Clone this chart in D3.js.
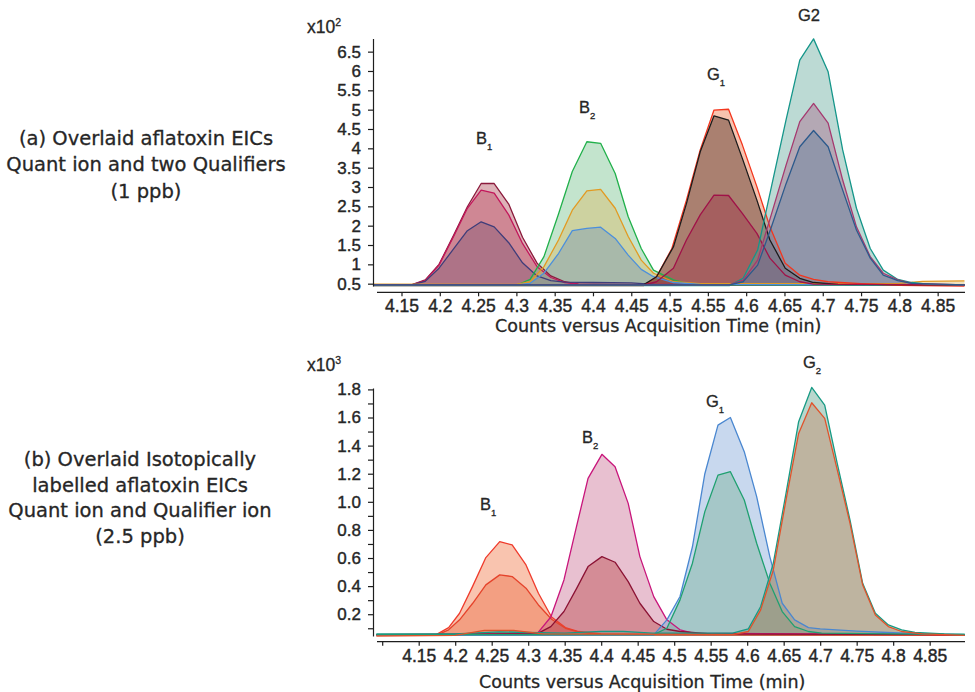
<!DOCTYPE html>
<html>
<head>
<meta charset="utf-8">
<script src="https://d3js.org/d3.v7.min.js"></script>
<style>
  body { margin: 0; background: #fff; }
  svg { display: block; }
  .axis path, .axis line { stroke: #1e1e1e; stroke-width: 1.2; }
  .axis text { font-family: "Liberation Sans", Arial, sans-serif; fill: #262626; stroke: #262626; stroke-width: 0.4px; }
  .note { font-family: "DejaVu Sans", sans-serif; fill: #262626; stroke: #262626; stroke-width: 0.3px; }
  .peak, .mult { font-family: "Liberation Sans", Arial, sans-serif; fill: #262626; stroke: #262626; stroke-width: 0.3px; }
</style>
</head>
<body>
<svg id="fig" width="975" height="692"></svg>
<script>
// ------------------------------------------
//  Data: (a) 1 ppb, [time (min), counts x10^2]
// ------------------------------------------
const aB1q1 = [[4.113,0.47],[4.163,0.47],[4.181,0.60],[4.199,1.00],[4.218,1.75],[4.236,2.49],[4.254,3.09],[4.271,3.09],[4.290,2.56],[4.308,1.70],[4.327,1.03],[4.345,0.70],[4.363,0.55],[4.381,0.49],[4.45,0.47],[4.885,0.47]]
const aB1q2 = [[4.113,0.47],[4.163,0.47],[4.181,0.58],[4.199,0.98],[4.218,1.72],[4.236,2.45],[4.254,2.92],[4.271,2.84],[4.290,2.28],[4.308,1.54],[4.327,0.94],[4.345,0.66],[4.363,0.53],[4.381,0.49],[4.885,0.47]]
const aB1q3 = [[4.113,0.47],[4.163,0.47],[4.181,0.56],[4.199,0.90],[4.218,1.40],[4.236,1.87],[4.254,2.10],[4.271,1.97],[4.290,1.56],[4.308,1.04],[4.327,0.70],[4.345,0.58],[4.363,0.54],[4.40,0.53],[4.45,0.52],[4.48,0.48],[4.885,0.47]]
const aB2q1 = [[4.113,0.46],[4.300,0.46],[4.318,0.61],[4.336,1.20],[4.355,2.30],[4.373,3.40],[4.392,4.17],[4.410,4.13],[4.429,3.35],[4.446,2.23],[4.463,1.41],[4.479,0.85],[4.505,0.60],[4.522,0.51],[4.54,0.47],[4.885,0.46]]
const aB2q2 = [[4.113,0.49],[4.300,0.48],[4.318,0.55],[4.336,0.94],[4.355,1.63],[4.373,2.40],[4.392,2.90],[4.410,2.94],[4.429,2.45],[4.446,1.72],[4.463,1.11],[4.479,0.77],[4.505,0.55],[4.54,0.50],[4.80,0.51],[4.83,0.56],[4.885,0.57]]
const aB2q3 = [[4.113,0.47],[4.300,0.47],[4.318,0.51],[4.336,0.77],[4.355,1.28],[4.373,1.87],[4.392,1.93],[4.410,1.96],[4.429,1.67],[4.446,1.24],[4.463,0.87],[4.479,0.68],[4.505,0.53],[4.54,0.48],[4.885,0.47]]
const aG1q1 = [[4.113,0.45],[4.466,0.45],[4.483,0.68],[4.503,1.41],[4.522,2.66],[4.540,3.96],[4.558,4.99],[4.577,5.01],[4.595,4.09],[4.614,3.01],[4.631,1.97],[4.651,1.03],[4.670,0.72],[4.688,0.61],[4.707,0.55],[4.75,0.50],[4.80,0.46],[4.885,0.44]]
const aG1q2 = [[4.113,0.47],[4.466,0.47],[4.483,0.68],[4.505,1.45],[4.522,2.57],[4.540,3.91],[4.558,4.84],[4.577,4.73],[4.595,3.74],[4.614,2.66],[4.631,1.63],[4.651,0.90],[4.670,0.64],[4.688,0.53],[4.72,0.48],[4.885,0.47]]
const aG1q3 = [[4.113,0.47],[4.466,0.47],[4.483,0.55],[4.505,0.90],[4.522,1.63],[4.540,2.28],[4.558,2.79],[4.577,2.78],[4.595,2.32],[4.614,1.80],[4.631,1.16],[4.651,0.72],[4.670,0.55],[4.688,0.49],[4.885,0.47]]
const aG2q1 = [[4.113,0.45],[4.578,0.45],[4.596,0.64],[4.615,1.37],[4.633,3.01],[4.652,4.73],[4.670,6.28],[4.688,6.83],[4.707,5.98],[4.726,3.96],[4.744,2.45],[4.762,1.41],[4.779,0.85],[4.798,0.61],[4.816,0.53],[4.84,0.48],[4.885,0.47]]
const aG2q2 = [[4.113,0.47],[4.578,0.47],[4.596,0.59],[4.615,1.11],[4.633,2.30],[4.652,3.56],[4.670,4.69],[4.688,5.16],[4.707,4.65],[4.726,3.18],[4.744,1.97],[4.762,1.20],[4.779,0.77],[4.798,0.60],[4.816,0.51],[4.885,0.47]]
const aG2q3 = [[4.113,0.47],[4.578,0.47],[4.596,0.55],[4.615,0.98],[4.633,1.97],[4.652,3.08],[4.670,4.04],[4.688,4.46],[4.707,4.04],[4.726,2.92],[4.744,1.89],[4.762,1.16],[4.779,0.72],[4.798,0.58],[4.816,0.51],[4.885,0.47]]

const aLineColors = ['#8b1a3c', '#c2185b', '#3f3d7a', '#21b04b', '#e29a22', '#4b8fdc', '#f3361e', '#1b1b1b', '#a01248', '#15968a', '#a5396f', '#2c5a8c']
const aFillColors = ['#aa3f4e', '#bc465e', '#7d5573', '#69bc82', '#dcb75c', '#7093b9', '#eb6937', '#371c12', '#9d2d46', '#58a394', '#a85d84', '#5c7b9b']

const aXTicks = [4.15, 4.2, 4.25, 4.3, 4.35, 4.4, 4.45, 4.5, 4.55, 4.6, 4.65, 4.7, 4.75, 4.8, 4.85]
const aXLabels = ['4.15', '4.2', '4.25', '4.3', '4.35', '4.4', '4.45', '4.5', '4.55', '4.6', '4.65', '4.7', '4.75', '4.8', '4.85']
const aYTicks = [0.5, 1, 1.5, 2, 2.5, 3, 3.5, 4, 4.5, 5, 5.5, 6, 6.5]
const aYLabels = ['0.5', '1', '1.5', '2', '2.5', '3', '3.5', '4', '4.5', '5', '5.5', '6', '6.5']

const aPeakNames = ['B', 'B', 'G', 'G2']
const aPeakSubs = ['1', '2', '1', '']
const aPeakAt = [[4.2473, 4.11], [4.3817, 4.92], [4.5488, 5.77], [4.6676, 7.3]]

// ------------------------------------------
//  Data: (b) 2.5 ppb, [time (min), counts x10^3]
// ------------------------------------------
const bB1q1 = [[4.092,0.055],[4.174,0.055],[4.191,0.105],[4.206,0.207],[4.224,0.40],[4.242,0.603],[4.261,0.717],[4.278,0.693],[4.297,0.551],[4.314,0.349],[4.332,0.18],[4.351,0.105],[4.369,0.077],[4.40,0.06],[4.898,0.055]]
const bB1q2 = [[4.092,0.05],[4.174,0.05],[4.191,0.089],[4.206,0.16],[4.224,0.278],[4.242,0.409],[4.261,0.48],[4.278,0.468],[4.297,0.385],[4.314,0.266],[4.332,0.164],[4.351,0.10],[4.369,0.072],[4.40,0.055],[4.898,0.05]]
const bB2q1 = [[4.092,0.055],[4.312,0.06],[4.331,0.18],[4.349,0.444],[4.366,0.82],[4.382,1.167],[4.401,1.338],[4.419,1.25],[4.437,0.989],[4.453,0.61],[4.472,0.325],[4.490,0.16],[4.508,0.089],[4.526,0.065],[4.898,0.055]]
const bB2q2 = [[4.092,0.055],[4.312,0.06],[4.331,0.112],[4.349,0.219],[4.366,0.38],[4.382,0.539],[4.401,0.61],[4.419,0.57],[4.437,0.432],[4.453,0.278],[4.472,0.148],[4.490,0.093],[4.508,0.077],[4.55,0.06],[4.898,0.055]]
const bG1q1 = [[4.092,0.05],[4.472,0.053],[4.490,0.16],[4.508,0.326],[4.525,0.68],[4.542,1.20],[4.560,1.546],[4.577,1.60],[4.596,1.357],[4.613,1.037],[4.631,0.61],[4.648,0.278],[4.665,0.16],[4.684,0.105],[4.70,0.095],[4.75,0.08],[4.80,0.068],[4.85,0.058],[4.898,0.055]]
const bG1q2 = [[4.092,0.055],[4.472,0.055],[4.490,0.10],[4.508,0.302],[4.525,0.563],[4.542,0.93],[4.560,1.19],[4.577,1.214],[4.596,1.013],[4.613,0.705],[4.631,0.42],[4.648,0.219],[4.665,0.112],[4.684,0.077],[4.702,0.065],[4.898,0.055]]
const bG2q1 = [[4.092,0.06],[4.20,0.06],[4.26,0.075],[4.30,0.07],[4.35,0.065],[4.40,0.078],[4.43,0.078],[4.47,0.065],[4.58,0.065],[4.6016,0.096],[4.6185,0.255],[4.6358,0.563],[4.6532,1.06],[4.6705,1.57],[4.6884,1.814],[4.7062,1.688],[4.7235,1.27],[4.7409,0.87],[4.7582,0.42],[4.7756,0.207],[4.7934,0.124],[4.8116,0.089],[4.8299,0.07],[4.87,0.06],[4.898,0.058]]
const bG2q2 = [[4.092,0.045],[4.20,0.05],[4.24,0.085],[4.28,0.085],[4.32,0.06],[4.58,0.055],[4.6016,0.077],[4.6185,0.231],[4.6358,0.515],[4.6532,1.013],[4.6705,1.487],[4.6884,1.705],[4.7062,1.594],[4.7235,1.226],[4.7409,0.847],[4.7582,0.409],[4.7756,0.195],[4.7934,0.112],[4.8116,0.077],[4.84,0.06],[4.898,0.05]]

const bLineColors = ['#ef3b2c', '#e5432b', '#c8157b', '#8b1234', '#4a87d0', '#1fa070', '#179a84', '#e0532b']
const bFillColors = ['#f06c37', '#ec6a3e', '#c5628a', '#b63e3f', '#769ed5', '#70b08f', '#509b82', '#c57f5c']

const bXTicks = [4.1, 4.15, 4.2, 4.25, 4.3, 4.35, 4.4, 4.45, 4.5, 4.55, 4.6, 4.65, 4.7, 4.75, 4.8, 4.85]
const bXLabels = ['', '4.15', '4.2', '4.25', '4.3', '4.35', '4.4', '4.45', '4.5', '4.55', '4.6', '4.65', '4.7', '4.75', '4.8', '4.85']
const bYTicks = [0.2, 0.4, 0.6, 0.8, 1.0, 1.2, 1.4, 1.6, 1.8]
const bYLabels = ['0.2', '0.4', '0.6', '0.8', '1.0', '1.2', '1.4', '1.6', '1.8']
const bYMinor = [0.1, 0.3, 0.5, 0.7, 0.9, 1.1, 1.3, 1.5, 1.7]

const bPeakNames = ['B', 'B', 'G', 'G']
const bPeakSubs = ['1', '2', '1', '2']
const bPeakAt = [[4.234, 0.942], [4.3737, 1.416], [4.5436, 1.677], [4.6765, 1.95]]

// ------------------------------------------
//  Drawing
// ------------------------------------------
const svg = d3.select('#fig')

function drawChart(cfg) {
  const x = d3.scaleLinear().domain(cfg.xDomain).range([cfg.left, cfg.right])
  const y = d3.scaleLinear().domain(cfg.yDomain).range([cfg.bottom, cfg.top])
  const g = svg.append('g')

  g.append('clipPath').attr('id', 'clip-' + cfg.id)
    .append('rect')
    .attr('x', cfg.left).attr('y', cfg.top - 2)
    .attr('width', cfg.right - cfg.left).attr('height', cfg.bottom - cfg.top + 4)

  const area = d3.area().x(d => x(d[0])).y0(cfg.bottom).y1(d => y(d[1]))
  const line = d3.line().x(d => x(d[0])).y(d => y(d[1]))

  const plot = g.append('g').attr('clip-path', `url(#clip-${cfg.id})`)

  plot.selectAll('.fill')
    .data(cfg.series)
    .enter().append('path')
    .attr('class', 'fill')
    .attr('d', area)
    .attr('fill', (d, i) => cfg.fills[i])
    .attr('fill-opacity', 0.4)

  plot.selectAll('.trace')
    .data(cfg.series)
    .enter().append('path')
    .attr('class', 'trace')
    .attr('d', line)
    .attr('fill', 'none')
    .attr('stroke', (d, i) => cfg.lines[i])
    .attr('stroke-width', 1.3)
    .attr('stroke-linejoin', 'round')

  // y axis
  g.append('g')
    .attr('class', 'axis')
    .attr('transform', `translate(${cfg.left},0)`)
    .call(d3.axisLeft(y).tickValues(cfg.yTicks).tickFormat((d, i) => cfg.yLabels[i])
      .tickSize(5).tickPadding(7).tickSizeOuter(0))
    .selectAll('text').attr('font-size', 17)

  if (cfg.yMinor) {
    g.append('g')
      .attr('class', 'axis')
      .attr('transform', `translate(${cfg.left},0)`)
      .call(d3.axisLeft(y).tickValues(cfg.yMinor).tickFormat('').tickSize(5).tickSizeOuter(0))
      .call(a => a.select('.domain').remove())
  }

  // x axis, sits a few pixels below the plot
  g.append('g')
    .attr('class', 'axis')
    .attr('transform', `translate(0,${cfg.axisY})`)
    .call(d3.axisBottom(x).tickValues(cfg.xTicks).tickFormat((d, i) => cfg.xLabels[i])
      .tickSize(4).tickPadding(3.5).tickSizeOuter(0))
    .call(a => a.select('.domain').attr('d', `M${cfg.left + 4},0H${cfg.right}`))
    .selectAll('text').attr('font-size', 17.5)

  g.append('text')
    .attr('class', 'note')
    .attr('x', cfg.titleX).attr('y', cfg.titleY)
    .attr('font-size', 17.5)
    .text('Counts versus Acquisition Time (min)')

  // multiplier
  const mult = g.append('text')
    .attr('class', 'mult')
    .attr('x', 307).attr('y', cfg.multY)
    .attr('font-size', 17.5)
    .text('x10')
  mult.append('tspan').attr('dy', -7).attr('font-size', 10.5).text(cfg.power)

  // peak names
  cfg.peaks.forEach((name, i) => {
    const t = g.append('text')
      .attr('class', 'peak')
      .attr('x', x(cfg.peakAt[i][0]))
      .attr('y', y(cfg.peakAt[i][1]))
      .attr('font-size', 16.5)
      .text(name)
    if (cfg.subs[i]) t.append('tspan').attr('dy', 6).attr('font-size', 9.5).text(cfg.subs[i])
  })

  // description on the left
  g.append('text')
    .attr('class', 'note')
    .attr('font-size', 19.5)
    .attr('text-anchor', 'middle')
    .selectAll('tspan')
    .data(cfg.caption)
    .enter().append('tspan')
    .attr('x', cfg.captionX)
    .attr('y', (d, i) => cfg.captionY + i * cfg.captionStep)
    .text(d => d)
}

drawChart({
  id: 'a',
  series: [aB1q1, aB1q2, aB1q3, aB2q1, aB2q2, aB2q3, aG1q1, aG1q2, aG1q3, aG2q1, aG2q2, aG2q3],
  lines: aLineColors,
  fills: aFillColors,
  xDomain: [4.1128, 4.8857],
  yDomain: [0.44, 6.84],
  left: 373, right: 965, top: 38.5, bottom: 286, axisY: 292.3,
  xTicks: aXTicks, xLabels: aXLabels,
  yTicks: aYTicks, yLabels: aYLabels,
  titleX: 495, titleY: 331.5,
  multY: 32.7,
  power: '2',
  peaks: aPeakNames, subs: aPeakSubs, peakAt: aPeakAt,
  caption: ['(a) Overlaid aflatoxin EICs', 'Quant ion and two Qualifiers', '(1 ppb)'],
  captionX: 146, captionY: 144.5, captionStep: 26.5
})

drawChart({
  id: 'b',
  series: [bB1q1, bB1q2, bB2q1, bB2q2, bG1q1, bG1q2, bG2q1, bG2q2],
  lines: bLineColors,
  fills: bFillColors,
  xDomain: [4.0874, 4.8984],
  yDomain: [0.045, 1.81],
  left: 373, right: 965, top: 388, bottom: 636, axisY: 641.7,
  xTicks: bXTicks, xLabels: bXLabels,
  yTicks: bYTicks, yLabels: bYLabels, yMinor: bYMinor,
  titleX: 479, titleY: 688,
  multY: 371,
  power: '3',
  peaks: bPeakNames, subs: bPeakSubs, peakAt: bPeakAt,
  caption: ['(b) Overlaid Isotopically', 'labelled aflatoxin EICs', 'Quant ion and Qualifier ion', '(2.5 ppb)'],
  captionX: 140, captionY: 466, captionStep: 25.5
})
</script>
</body>
</html>
